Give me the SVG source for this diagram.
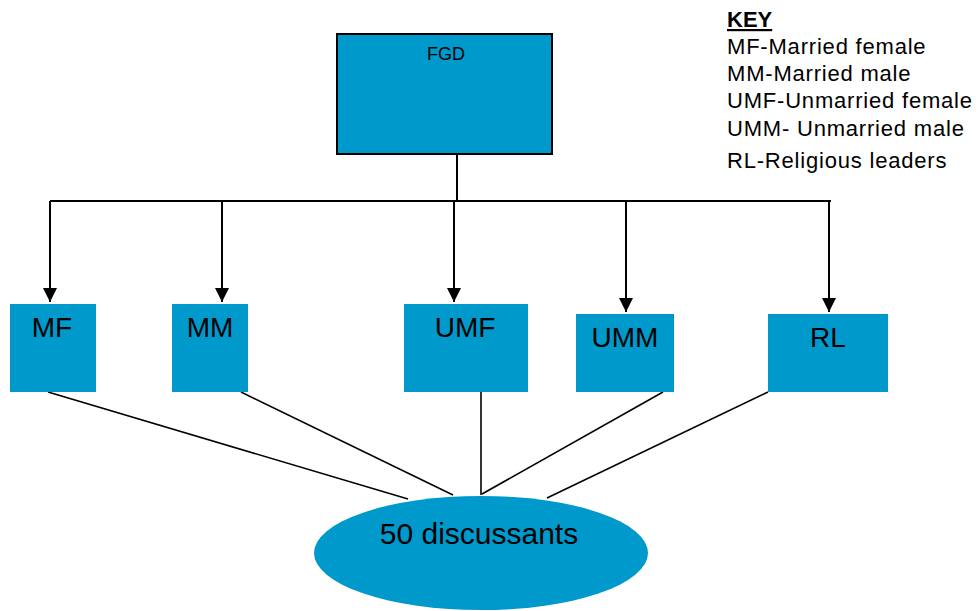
<svg xmlns="http://www.w3.org/2000/svg" width="980" height="611" viewBox="0 0 980 611">
<defs>
<style>
text{font-family:"Liberation Sans",Arial,sans-serif;fill:#000}
.box{fill:#0099cc}
.lbl{font-size:28px;text-anchor:middle}
.key{font-size:22px;letter-spacing:0.8px}
.conn{stroke:#000;stroke-width:2;fill:none}
.thin{stroke:#000;stroke-width:1.6;fill:none}
</style>
<marker id="arr" markerWidth="14" markerHeight="14" refX="7" refY="14" orient="0" markerUnits="userSpaceOnUse" viewBox="0 0 14 14">
<path d="M0,0 L14,0 L7,14 Z" fill="#000"/>
</marker>
</defs>
<rect width="980" height="611" fill="#fff"/>
<g id="connectors">
<path class="conn" d="M457,154 V201"/>
<path class="conn" d="M50,201 H831"/>
<path class="conn" d="M50,201 V302" marker-end="url(#arr)"/>
<path class="conn" d="M222,201 V302" marker-end="url(#arr)"/>
<path class="conn" d="M454,201 V302" marker-end="url(#arr)"/>
<path class="conn" d="M626,201 V312" marker-end="url(#arr)"/>
<path class="conn" d="M829,201 V312" marker-end="url(#arr)"/>
<path class="thin" d="M48,392 L408,499"/>
<path class="thin" d="M241,392 L453,495"/>
<path class="thin" d="M481,392 V495"/>
<path class="thin" d="M663,392 L482,494"/>
<path class="thin" d="M768,392 L547,498"/>
</g>
<g id="fgd">
<rect x="337" y="34" width="215" height="120" class="box" stroke="#000" stroke-width="2"/>
<text x="446" y="60" font-size="18" text-anchor="middle">FGD</text>
</g>
<g id="mf">
<rect class="box" x="10" y="304" width="86" height="88"/>
<text class="lbl" x="52" y="337">MF</text>
</g>
<g id="mm">
<rect class="box" x="172" y="304" width="76" height="88"/>
<text class="lbl" x="210" y="337">MM</text>
</g>
<g id="umf">
<rect class="box" x="404" y="304" width="124" height="88"/>
<text class="lbl" x="465" y="337">UMF</text>
</g>
<g id="umm">
<rect class="box" x="576" y="314" width="98" height="78"/>
<text class="lbl" x="625" y="347">UMM</text>
</g>
<g id="rl">
<rect class="box" x="768" y="314" width="120" height="78"/>
<text class="lbl" x="828" y="347">RL</text>
</g>
<g id="discussants">
<ellipse cx="481" cy="553" rx="167" ry="57" class="box"/>
<text x="479" y="544" font-size="30" text-anchor="middle">50 discussants</text>
</g>
<g id="key">
<text x="727" y="27" font-size="22" font-weight="bold" text-decoration="underline">KEY</text>
<text class="key" x="727" y="54">MF-Married female</text>
<text class="key" x="727" y="81">MM-Married male</text>
<text class="key" x="727" y="108">UMF-Unmarried female</text>
<text class="key" x="727" y="136">UMM- Unmarried male</text>
<text class="key" x="727" y="168">RL-Religious leaders</text>
</g>
</svg>
